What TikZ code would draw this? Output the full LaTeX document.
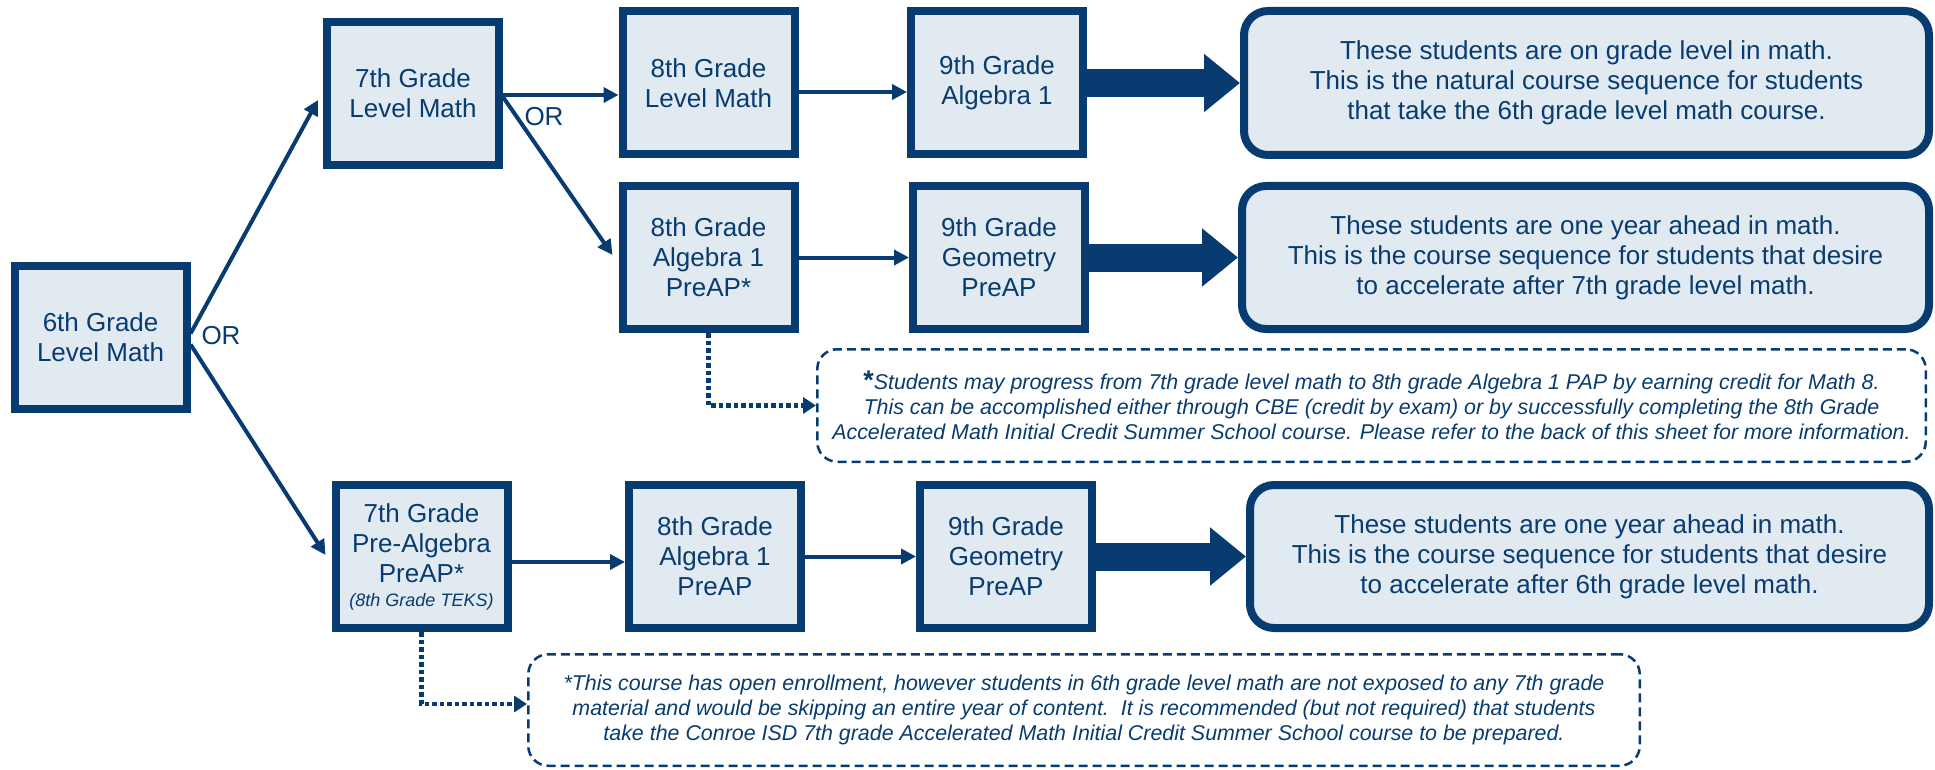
\documentclass[tikz,border=0pt]{standalone}
\usepackage{fontspec}
\setmainfont{Liberation Sans}
\usetikzlibrary{arrows.meta,calc}
\definecolor{navy}{RGB}{8,60,112}
\definecolor{boxfill}{RGB}{225,233,241}
\begin{document}
\begin{tikzpicture}[x=1pt,y=-1pt,
  course/.style={draw=navy, fill=boxfill, line width=8pt, minimum width=172pt, minimum height=143pt, inner sep=0pt, align=center, text=navy, font=\fontsize{26}{30}\selectfont},
  result/.style={draw=navy, fill=boxfill, line width=8pt, rounded corners=24pt, inner sep=0pt, align=center, text=navy, font=\fontsize{26}{30}\selectfont},
  note/.style={draw=navy, dash pattern=on 9pt off 5pt, line width=2.5pt, rounded corners=20pt, inner sep=0pt, align=center, text=navy, font=\fontsize{21.4}{25}\selectfont\itshape},
  conn/.style={draw=navy, line width=4pt, -{Triangle[length=15pt,width=15pt]}},
  big/.style={draw=navy, line width=28pt, -{Triangle[length=36pt,width=56pt]}},
  dotconn/.style={draw=navy, line width=4.5pt, dash pattern=on 4.5pt off 3pt, -{Triangle[length=13pt,width=16pt]}},
  orlabel/.style={text=navy, font=\fontsize{26}{30}\selectfont, inner sep=0pt}
]
\useasboundingbox (0,0) rectangle (1935,770);

\node[course] (six) at (100.6,337.5) {6th Grade\\Level Math};
\node[course] (seven) at (413,93.5) {7th Grade\\Level Math};
\node[course] (eightA) at (708.5,83) {8th Grade\\Level Math};
\node[course] (nineA) at (997,83) {9th Grade\\Algebra 1};
\node[course] (eightB) at (708.5,257.5) {8th Grade\\Algebra 1\\PreAP*};
\node[course] (nineB) at (999,257.5) {9th Grade\\Geometry\\PreAP};
\node[course] (sevenC) at (421.5,556.5) {7th Grade\\Pre-Algebra\\PreAP*\\[-6pt]{\fontsize{18}{20}\selectfont\itshape (8th Grade TEKS)}};
\node[course] (eightC) at (715,556.5) {8th Grade\\Algebra 1\\PreAP};
\node[course] (nineC) at (1006,556.5) {9th Grade\\Geometry\\PreAP};

\node[result, minimum width=685pt, minimum height=144pt] (resA) at (1586.5,83)
  {These students are on grade level in math.\\This is the natural course sequence for students\\that take the 6th grade level math course.};
\node[result, minimum width=687pt, minimum height=143pt] (resB) at (1585.5,257.5)
  {These students are one year ahead in math.\\This is the course sequence for students that desire\\to accelerate after 7th grade level math.};
\node[result, minimum width=679pt, minimum height=143pt] (resC) at (1589.5,556.5)
  {These students are one year ahead in math.\\This is the course sequence for students that desire\\to accelerate after 6th grade level math.};

\node[note, minimum width=1108.5pt, minimum height=112.5pt] (noteB) at (1371.5,405.5)
  {{\fontsize{27}{25}\selectfont\upshape\bfseries *}Students may progress from 7th grade level math to 8th grade Algebra 1 PAP by earning credit for Math 8.\\
   This can be accomplished either through CBE (credit by exam) or by successfully completing the 8th Grade\\
   Accelerated Math Initial Credit Summer School course. Please refer to the back of this sheet for more information.};
\node[note, minimum width=1111.5pt, minimum height=111.5pt] (noteC) at (1084,710)
  {*This course has open enrollment, however students in 6th grade level math are not exposed to any 7th grade\\
   material and would be skipping an entire year of content.\ \ It is recommended (but not required) that students\\
   take the Conroe ISD 7th grade Accelerated Math Initial Credit Summer School course to be prepared.};

\node[orlabel] (orA) at (221,336) {OR};
\node[orlabel] (orB) at (544,117) {OR};

\draw[conn] ($(six.east)+(0,-4)$) -- ($(seven.west)+(-5,6.5)$);
\draw[conn] ($(six.east)+(0,7)$) -- ($(sevenC.west)+(-6,-1.5)$);
\draw[conn] ($(seven.east)+(0,1.5)$) -- ($(eightA.west)+(0,12)$);
\draw[conn] ($(seven.east)+(0,3.5)$) -- ($(eightB.west)+(-6,-2.5)$);
\draw[conn] ($(eightA.east)+(0,9)$) -- ($(nineA.west)+(0,9)$);
\draw[conn] (eightB.east) -- (nineB.west);
\draw[conn] ($(sevenC.east)+(0,5.5)$) -- ($(eightC.west)+(0,5.5)$);
\draw[conn] (eightC.east) -- (nineC.west);

\draw[big] (nineA.east) -- (resA.west);
\draw[big] (nineB.east) -- (resB.west);
\draw[big] (nineC.east) -- (resC.west);

\draw[dotconn] (eightB.south) |- (noteB.west);
\draw[dotconn] (sevenC.south) |- ($(noteC.west)+(0,-6)$);
\end{tikzpicture}
\end{document}
